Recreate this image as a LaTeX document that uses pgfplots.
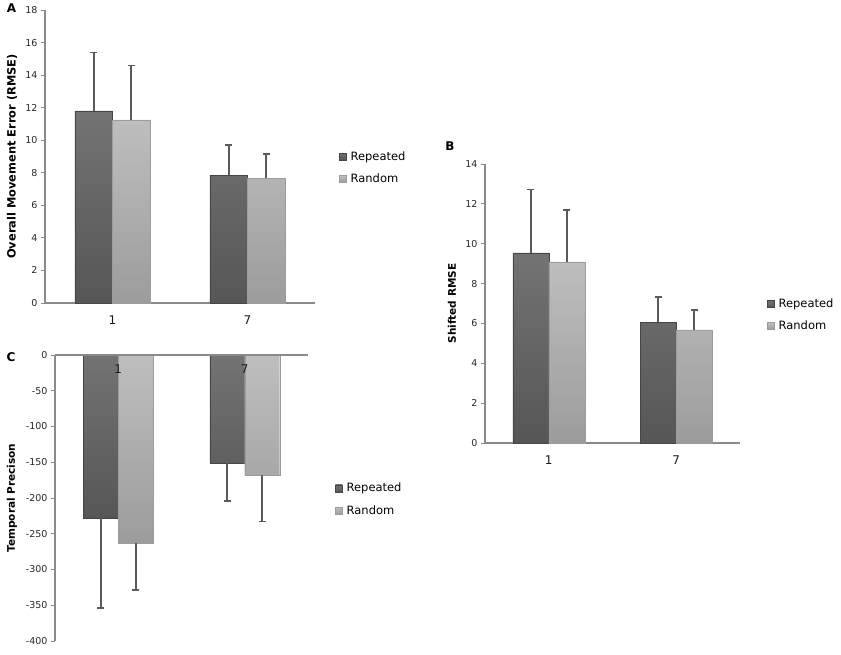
\documentclass[border=0pt]{standalone}
\usepackage{pgfplots}
\pgfplotsset{compat=1.18}
\usepackage{fontspec}
\setmainfont{DejaVu Sans}
\definecolor{axgray}{HTML}{8A8A8A}
\definecolor{errgray}{HTML}{5A5A5A}
\definecolor{reptop}{HTML}{737373}
\definecolor{repbot}{HTML}{565656}
\definecolor{randtop}{HTML}{BEBEBE}
\definecolor{randbot}{HTML}{9C9C9C}
\pgfplotsset{
  panel/.style={
    scale only axis, anchor=south west, clip=false,
    xmin=0, xmax=2, xtick={0.5,1.5}, xticklabels={1,7},
    axis y line*=left,
    axis line style={axgray, line width=1.2pt, -},
    major tick length=4pt,
    ytick style={axgray, line width=1pt},
    xtick style={draw=none},
    ytick align=outside,
    /pgf/number format/assume math mode=true,
    y tick label style={font=\fontsize{9.5}{11}\selectfont, text=black!85},
    x tick label style={font=\fontsize{12}{14}\selectfont, text=black!90},
    legend style={draw=none, fill=none, inner sep=0pt, row sep=12pt,
      font=\fontsize{11.5}{13}\selectfont,
      nodes={inner xsep=4pt, inner ysep=0pt}},
    legend cell align=left,
    legend image code/.code={\path[##1, line width=0.4pt] (0pt,-3.5pt) rectangle (7pt,3.5pt);},
    every axis y label/.style={rotate=90, anchor=center, font=\bfseries\fontsize{10.5}{12}\selectfont},
  },
  rep/.style={ybar, bar shift=0pt, draw=repbot!80!black, top color=reptop, bottom color=repbot, line width=0.4pt},
  rnd/.style={ybar, bar shift=0pt, draw=randbot, top color=randtop, bottom color=randbot, line width=0.4pt},
  err/.style={forget plot, only marks, mark=*, mark size=0pt, mark options={draw=none, fill=none},
    color=errgray, line width=1.8pt,
    error bars/.cd, y dir=#1, y explicit,
    error bar style={draw=errgray, line width=1.8pt},
    error mark options={draw=errgray, line width=1.6pt, mark size=3.5pt, rotate=90}},
}
\begin{document}
\begin{tikzpicture}
\useasboundingbox (0pt,0pt) rectangle (841pt,-654pt);
% Panel A
\begin{axis}[panel, at={(45pt,-303pt)}, width=270pt, height=293pt,
  axis x line*=bottom,
  ymin=0, ymax=18, ytick={0,2,...,18},
  bar width=37.5pt,
  x tick label style={yshift=-9pt},
  ylabel={Overall Movement Error (RMSE)},
  every axis y label/.append style={at={(axis description cs:-0.122,0.5)}, font=\bfseries\fontsize{11.4}{13}\selectfont},
  legend style={at={(axis description cs:1.089,0.462)}, anchor=west},
]
\addplot[rep] coordinates {(0.3611,11.8) (1.3611,7.85)};
\addplot[rnd] coordinates {(0.6389,11.25) (1.6389,7.65)};
\addplot[err=plus] coordinates {(0.3611,11.8) +- (0,3.6) (1.3611,7.85) +- (0,1.85)};
\addplot[err=plus] coordinates {(0.6389,11.25) +- (0,3.35) (1.6389,7.65) +- (0,1.5)};
\legend{Repeated, Random}
\end{axis}
% Panel B
\begin{axis}[panel, at={(485pt,-443pt)}, width=255pt, height=279pt,
  axis x line*=bottom,
  ymin=0, ymax=14, ytick={0,2,...,14},
  bar width=36pt,
  x tick label style={yshift=-9pt},
  ylabel={Shifted RMSE},
  every axis y label/.append style={at={(axis description cs:-0.13,0.5)}},
  legend style={at={(axis description cs:1.106,0.459)}, anchor=west},
]
\addplot[rep] coordinates {(0.3588,9.54) (1.3588,6.05)};
\addplot[rnd] coordinates {(0.6412,9.09) (1.6412,5.68)};
\addplot[err=plus] coordinates {(0.3588,9.54) +- (0,3.19) (1.3588,6.05) +- (0,1.27)};
\addplot[err=plus] coordinates {(0.6412,9.09) +- (0,2.6) (1.6412,5.68) +- (0,1.0)};
\legend{Repeated, Random}
\end{axis}
% Panel C
\begin{axis}[panel, at={(55pt,-641pt)}, width=253pt, height=286pt,
  axis x line*=middle, axis on top,
  ymin=-400, ymax=0, ytick={-400,-350,...,0},
  bar width=35pt,
  x tick label style={yshift=-6pt},
  ylabel={Temporal Precison},
  every axis y label/.append style={at={(axis description cs:-0.17,0.5)}},
  legend style={at={(axis description cs:1.107,0.495)}, anchor=west},
]
\addplot[rep] coordinates {(0.3617,-228) (1.3617,-151)};
\addplot[rnd] coordinates {(0.6383,-263) (1.6383,-168)};
\addplot[err=minus] coordinates {(0.3617,-228) +- (0,126) (1.3617,-151) +- (0,53)};
\addplot[err=minus] coordinates {(0.6383,-263) +- (0,66) (1.6383,-168) +- (0,65)};
\legend{Repeated, Random}
\end{axis}
\node[font=\bfseries\fontsize{12}{14}\selectfont] at (11.5pt,-8pt) {A};
\node[font=\bfseries\fontsize{12}{14}\selectfont] at (450pt,-146pt) {B};
\node[font=\bfseries\fontsize{12}{14}\selectfont] at (11pt,-357pt) {C};
\end{tikzpicture}
\end{document}
